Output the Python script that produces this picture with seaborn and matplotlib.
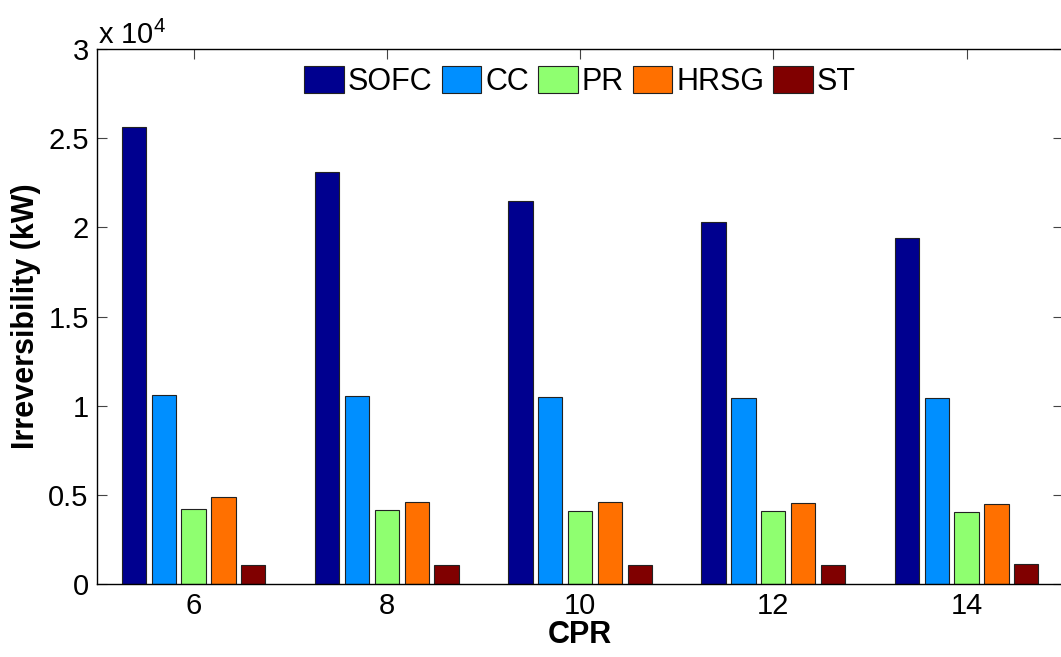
import pandas as pd
import matplotlib
matplotlib.use("Agg")
import matplotlib.pyplot as plt
from matplotlib.ticker import FuncFormatter, MultipleLocator
import seaborn as sns

# Irreversibility of each component (kW) vs compressor pressure ratio
cpr = ["6", "8", "10", "12", "14"]
components = ["SOFC", "CC", "PR", "HRSG", "ST"]
sofc = [25650, 23100, 21500, 20300, 19400]
cc = [10600, 10550, 10500, 10450, 10450]
pr = [4190, 4130, 4080, 4080, 4020]
hrsg = [4900, 4620, 4580, 4520, 4510]
st = [1080, 1080, 1080, 1080, 1120]

# MATLAB jet colours for 5 series
colors = ["#00008f", "#008fff", "#8fff70", "#ff7000", "#800000"]

rows = []
for name, vals in zip(components, [sofc, cc, pr, hrsg, st]):
    for c, v in zip(cpr, vals):
        rows.append({"CPR": c, "Component": name, "Irreversibility": v})
df = pd.DataFrame(rows)

sns.set_style("ticks")
plt.rcParams["font.family"] = ["Liberation Sans", "DejaVu Sans"]
plt.rcParams["mathtext.fontset"] = "custom"
plt.rcParams["mathtext.rm"] = "Liberation Sans"
plt.rcParams["mathtext.it"] = "Liberation Sans"
plt.rcParams["text.color"] = "black"
plt.rcParams["axes.labelcolor"] = "black"
plt.rcParams["xtick.labelcolor"] = "black"
plt.rcParams["ytick.labelcolor"] = "black"

fig = plt.figure(figsize=(10.61, 6.57), dpi=100)
ax = fig.add_axes([97 / 1061, 1 - 584 / 657, 1 - 97 / 1061 + 0.002, (584 - 49) / 657])

sns.barplot(data=df, x="CPR", y="Irreversibility", hue="Component",
            hue_order=components, order=cpr, palette=colors,
            width=0.772, gap=0.185, edgecolor="#222222", linewidth=0.8,
            saturation=1, ax=ax)

ax.set_xlim(-0.5, 4.5)
ax.set_ylim(0, 30000)
ax.yaxis.set_major_locator(MultipleLocator(5000))
ax.yaxis.set_major_formatter(FuncFormatter(lambda v, p: f"{v / 1e4:g}"))

for s in ax.spines.values():
    s.set_visible(True)
    s.set_linewidth(1.0)
    s.set_color("black")
ax.tick_params(direction="in", length=7, width=0.8, labelsize=21, pad=6,
               top=True, right=True, color="#444444", labelcolor="black")

ax.set_xlabel("CPR", fontsize=22, fontweight="bold", labelpad=0, color="black")
ax.set_ylabel("Irreversibility (kW)", fontsize=22, fontweight="bold", labelpad=5,
              color="black")

fig.text(98 / 1061, 1 - 44 / 657, "x 10$^{4}$", fontsize=21, ha="left",
         va="baseline", color="black")

ax.legend(ncol=5, loc="upper center", bbox_to_anchor=(0.5, 0.992), frameon=False,
          fontsize=22, handlelength=1.3, handleheight=1.0, handletextpad=0.12,
          columnspacing=0.3, borderaxespad=0, labelcolor="black")
leg = ax.get_legend()
for h in leg.legend_handles:
    h.set_edgecolor("#222222")
    h.set_linewidth(0.8)

fig.savefig("out.png", dpi=100)
